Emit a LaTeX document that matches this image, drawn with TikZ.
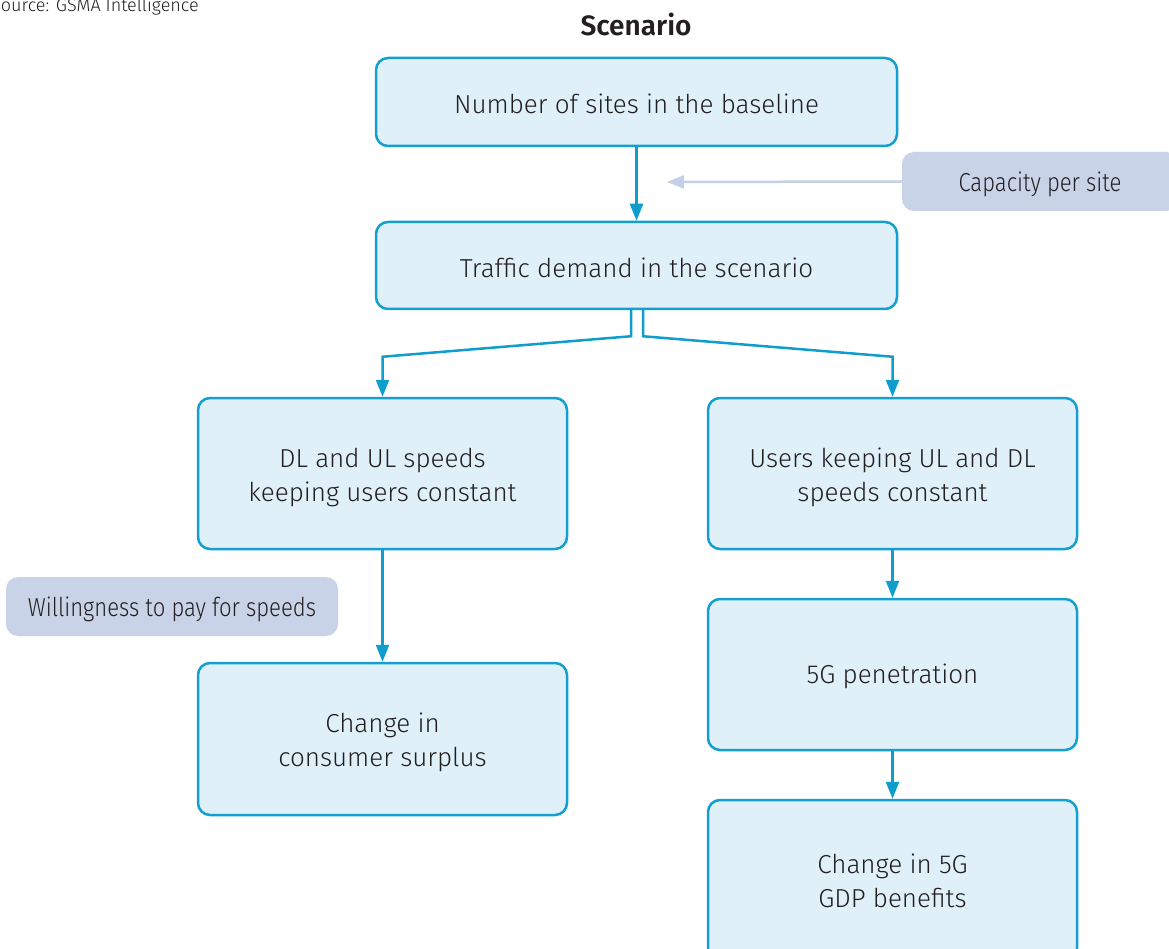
\documentclass[tikz,border=0pt]{standalone}
\usepackage{fontspec}
\setmainfont{Fira Sans}[UprightFont=* Light, BoldFont=* SemiBold]
\usetikzlibrary{arrows.meta}
\definecolor{boxfill}{HTML}{DFF0F9}
\definecolor{boxline}{HTML}{139FCF}
\definecolor{arrowc}{HTML}{0E9DCC}
\definecolor{sidefill}{HTML}{C9D3E8}
\definecolor{capline}{HTML}{C5CFE6}
\definecolor{txt}{HTML}{231F20}
\newcommand{\fsz}{\fontsize{26}{34}\selectfont}
\newcommand{\lowr}[2]{\raisebox{-#1}[\height][\depth]{#2}}
\newcommand{\cond}[1]{\lowr{3pt}{\scalebox{0.85}[1]{#1}}}
\newcommand{\twol}[2]{\lowr{4pt}{\begin{tabular}{@{}c@{}}#1\\#2\end{tabular}}}
\tikzset{
  mainbox/.style={draw=boxline, fill=boxfill, line width=2.5pt, rounded corners=12pt,
    align=center, font=\fsz, text=txt, inner sep=0pt},
  sidebox/.style={fill=sidefill, rounded corners=12pt, align=center, font=\fsz, text=txt, inner sep=0pt},
  flow/.style={draw=arrowc, line width=2.5pt, -{Triangle[length=17pt,width=13pt]}},
  capflow/.style={draw=capline, line width=2.5pt, -{Triangle[length=17pt,width=13pt]}}
}
\begin{document}
\begin{tikzpicture}[x=1pt,y=-1pt]
\useasboundingbox (0,0) rectangle (1169,949);
\clip (0,0) rectangle (1169,949);
\node[anchor=base west, font=\fontsize{18}{20}\selectfont, text=txt, inner sep=0pt] (src) at (-9,12) {Source: GSMA Intelligence};
\node[font=\bfseries\fontsize{28}{32}\selectfont, text=txt, inner sep=0pt] (title) at (636,24) {Scenario};
\node[mainbox, minimum width=521pt, minimum height=88pt] (b1) at (636.5,102) {\lowr{2pt}{Number of sites in the baseline}};
\node[mainbox, minimum width=521pt, minimum height=87pt] (b2) at (636.5,265.5) {\lowr{2pt}{Traffic demand in the scenario}};
\node[sidebox, minimum width=276pt, minimum height=59pt] (cap) at (1040,181.5) {\cond{Capacity per site}};
\coordinate (capend) at (667,182);
\node[mainbox, minimum width=369pt, minimum height=151pt] (b3) at (382.5,473.5) {\twol{DL and UL speeds}{keeping users constant}};
\node[mainbox, minimum width=369pt, minimum height=151pt] (b4) at (892.5,473.5) {\twol{Users keeping UL and DL}{speeds constant}};
\node[sidebox, minimum width=332pt, minimum height=59pt] (wtp) at (172,606.5) {\cond{Willingness to pay for speeds}};
\node[mainbox, minimum width=369pt, minimum height=152pt] (b5) at (382.5,739) {\twol{Change in}{consumer surplus}};
\node[mainbox, minimum width=369pt, minimum height=151pt] (b6) at (892.5,674.5) {\lowr{2pt}{5G penetration}};
\node[mainbox, minimum width=369pt, minimum height=160pt] (b7) at (892.5,880) {\twol{Change in 5G}{GDP benefits}};
\draw[flow] (b1.south) -- (b2.north);
\draw[capflow] (cap.west) -- (capend);
\draw[flow] ([xshift=-5.5pt]b2.south) -- ++(0,26) -- ([yshift=40pt]b3.north) -- (b3.north);
\draw[flow] ([xshift=6.5pt]b2.south) -- ++(0,26) -- ([yshift=40pt]b4.north) -- (b4.north);
\draw[flow] (b3.south) -- (b5.north);
\draw[flow] (b4.south) -- (b6.north);
\draw[flow] (b6.south) -- (b7.north);
\end{tikzpicture}
\end{document}
